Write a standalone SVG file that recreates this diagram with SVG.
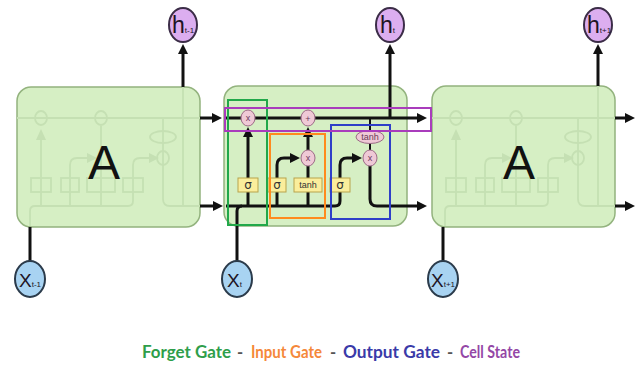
<svg xmlns="http://www.w3.org/2000/svg" xmlns:xlink="http://www.w3.org/1999/xlink" width="643" height="365" viewBox="0 0 643 365">
<style>
.box{fill:#d6efc4;stroke:#93b37e;stroke-width:1.5}
.ghost{fill:none;stroke:#c5e0b3;stroke-width:1.8}
.ghostfill{fill:#c5e0b3;stroke:none}
.big{font-family:"Liberation Sans",Arial,sans-serif;font-size:48px;fill:#111}
.wire{fill:none;stroke:#111;stroke-width:3}
.thin{fill:none;stroke:#111;stroke-width:2}
.op{fill:#efc9d6;stroke:#9b6b86;stroke-width:1}
.optxt{font-family:"Liberation Sans",Arial,sans-serif;font-size:9px;fill:#6a3a5a;text-anchor:middle}
.sig{fill:#faee9c;stroke:#b8a44c;stroke-width:1}
.sigtxt{font-family:"DejaVu Sans",sans-serif;font-size:12px;fill:#333;text-anchor:middle}
.tanhtxt{font-family:"Liberation Sans",Arial,sans-serif;font-size:9px;fill:#333;text-anchor:middle}
.gate{fill:none;stroke-width:2}
.hc{fill:#dcaef0;stroke:#3c2d48;stroke-width:2}
.xc{fill:#a8d3f2;stroke:#2b3b4b;stroke-width:2}
.lbl{font-family:"Liberation Sans",Arial,sans-serif;fill:#1d1424}
.leg{font-family:Lato,"Liberation Sans",sans-serif;font-weight:bold;font-size:16.5px}
.dash{fill:#555;text-anchor:middle}
</style>
<defs>
<marker id="arr" viewBox="0 0 10 10" refX="4" refY="5" markerWidth="10" markerHeight="10" markerUnits="userSpaceOnUse" orient="auto"><path d="M0,0 L10,5 L0,10 z" fill="#111"/></marker>
<g id="ghostCell">
<path class="ghost" d="M224,118 H407"/>
<ellipse class="ghost" cx="248" cy="118" rx="6" ry="7"/>
<ellipse class="ghost" cx="308" cy="118" rx="6" ry="7"/>
<path class="ghost" d="M248,206 V138"/>
<path class="ghostfill" d="M243,140 L248,129 L253,140 z"/>
<path class="ghost" d="M277,206 V165 Q277,158 284,158 H296"/>
<path class="ghostfill" d="M294,153 L304,158 L294,163 z"/>
<path class="ghost" d="M308,206 V126"/>
<path class="ghost" d="M237,226 V211 Q237,206 242,206 H335 Q340,206 340,201 V165 Q340,158 347,158 H358"/>
<path class="ghostfill" d="M356,153 L366,158 L356,163 z"/>
<path class="ghost" d="M370,118 V199 Q370,206 377,206 H407"/>
<path class="ghost" d="M390,86 V206"/>
<ellipse class="ghost" cx="370" cy="137" rx="13" ry="6" fill="#d6efc4"/>
<ellipse class="ghost" cx="370" cy="158" rx="6" ry="7" fill="#d6efc4"/>
<rect class="ghost" x="238" y="178" width="20" height="14" fill="#d6efc4"/>
<rect class="ghost" x="268" y="178" width="18" height="14" fill="#d6efc4"/>
<rect class="ghost" x="294" y="178" width="28" height="14" fill="#d6efc4"/>
<rect class="ghost" x="330" y="178" width="20" height="14" fill="#d6efc4"/>
</g>
</defs>
<rect width="643" height="365" fill="#ffffff"/>

<g id="cell-left">
<rect class="box" x="17" y="87" width="183" height="140" rx="14"/>
<use xlink:href="#ghostCell" transform="translate(-207,0)"/>
<text class="big" x="104" y="179" text-anchor="middle">A</text>
</g>
<g id="cell-middle">
<rect class="box" x="224" y="86" width="183" height="140" rx="14"/>
</g>
<g id="cell-right">
<rect class="box" x="432" y="86" width="183" height="141" rx="14"/>
<use xlink:href="#ghostCell" transform="translate(208,0)"/>
<text class="big" x="519" y="179" text-anchor="middle">A</text>
</g>

<g id="connectors">
<path class="wire" d="M183,87 V50" marker-end="url(#arr)"/>
<path class="wire" d="M390,118 V50" marker-end="url(#arr)"/>
<path class="wire" d="M598,86 V50" marker-end="url(#arr)"/>
<path class="wire" d="M200,118 H216" marker-end="url(#arr)"/>
<path class="wire" d="M200,206 H217" marker-end="url(#arr)"/>
<path class="wire" d="M226,118 H421" marker-end="url(#arr)"/>
<path class="wire" d="M615,118 H629" marker-end="url(#arr)"/>
<path class="wire" d="M615,206 H629" marker-end="url(#arr)"/>
<path class="wire" d="M30,227 V261"/>
<path class="wire" d="M443,227 V261"/>
<path class="wire" d="M237,261 V211 Q237,206 242,206 H335 Q340,206 340,201 V192"/>
<path class="wire" d="M226,206 H242"/>
<path class="wire" d="M248,206 V133" marker-end="url(#arr)"/>
<path class="wire" d="M277,206 V165 Q277,158 284,158 H294" marker-end="url(#arr)"/>
<path class="wire" d="M308,206 V166"/>
<path class="wire" d="M308,150 V133" marker-end="url(#arr)"/>
<path class="wire" d="M340,178 V165 Q340,158 347,158 H356" marker-end="url(#arr)"/>
<path class="thin" d="M370,118 V150"/>
<path class="wire" d="M370,166 V199 Q370,206 377,206 H421" marker-end="url(#arr)"/>
</g>

<g id="op-forget-mult"><ellipse class="op" cx="248" cy="118" rx="7" ry="8"/><text class="optxt" x="248" y="121">x</text></g>
<g id="op-add"><ellipse class="op" cx="308" cy="118" rx="7" ry="8"/><text class="optxt" x="308" y="121.5" font-size="11">+</text></g>
<g id="op-input-mult"><ellipse class="op" cx="308" cy="158" rx="7" ry="8"/><text class="optxt" x="308" y="161">x</text></g>
<g id="op-output-mult"><ellipse class="op" cx="370" cy="158" rx="7" ry="8"/><text class="optxt" x="370" y="161">x</text></g>
<g id="op-tanh-out"><ellipse class="op" cx="370" cy="137" rx="14" ry="6.5"/><text class="optxt" x="370" y="140" font-size="8.5">tanh</text></g>
<g id="layer-sigma1"><rect class="sig" x="238" y="178" width="20" height="14"/><text class="sigtxt" x="248" y="189">σ</text></g>
<g id="layer-sigma2"><rect class="sig" x="268" y="178" width="18" height="14"/><text class="sigtxt" x="277" y="189">σ</text></g>
<g id="layer-tanh"><rect class="sig" x="294" y="178" width="28" height="14"/><text class="tanhtxt" x="308" y="188">tanh</text></g>
<g id="layer-sigma3"><rect class="sig" x="330" y="178" width="20" height="14"/><text class="sigtxt" x="340" y="189">σ</text></g>

<g id="gate-forget"><rect class="gate" x="228" y="100" width="39" height="125" stroke="#22a84a"/></g>
<g id="gate-input"><rect class="gate" x="270" y="134" width="55" height="84" stroke="#ff8a1e"/></g>
<g id="gate-output"><rect class="gate" x="331" y="125" width="59" height="94" stroke="#2f3fc8"/></g>
<g id="gate-cellstate"><rect class="gate" x="225" y="108" width="206" height="23" stroke="#a93cbc"/></g>

<g id="h-prev"><ellipse class="hc" cx="183" cy="25" rx="14" ry="17"/><text class="lbl" x="172" y="33" font-size="23">h<tspan font-size="8">t-1</tspan></text></g>
<g id="h-t"><ellipse class="hc" cx="390" cy="25" rx="14" ry="17"/><text class="lbl" x="380" y="33" font-size="23">h<tspan font-size="8">t</tspan></text></g>
<g id="h-next"><ellipse class="hc" cx="598" cy="25" rx="14" ry="17"/><text class="lbl" x="587" y="33" font-size="23">h<tspan font-size="8">t+1</tspan></text></g>

<g id="x-prev"><ellipse class="xc" cx="30" cy="279" rx="15" ry="18"/><text class="lbl" x="19" y="287" font-size="19">X<tspan font-size="8">t-1</tspan></text></g>
<g id="x-t"><ellipse class="xc" cx="237" cy="279" rx="15" ry="18"/><text class="lbl" x="227" y="287" font-size="19">X<tspan font-size="8">t</tspan></text></g>
<g id="x-next"><ellipse class="xc" cx="443" cy="279" rx="15" ry="18"/><text class="lbl" x="431" y="287" font-size="19">X<tspan font-size="8">t+1</tspan></text></g>

<g id="legend">
<text class="leg" x="142" y="358" fill="#2e9e4a" textLength="89" lengthAdjust="spacingAndGlyphs">Forget Gate</text>
<text class="leg dash" x="240" y="358">-</text>
<text class="leg" x="251" y="358" fill="#f5883a" textLength="71" lengthAdjust="spacingAndGlyphs">Input Gate</text>
<text class="leg dash" x="333" y="358">-</text>
<text class="leg" x="343" y="358" fill="#3a3aa8" textLength="97" lengthAdjust="spacingAndGlyphs">Output Gate</text>
<text class="leg dash" x="450" y="358">-</text>
<text class="leg" x="460" y="358" fill="#9447a6" textLength="60" lengthAdjust="spacingAndGlyphs">Cell State</text>
</g>
</svg>
